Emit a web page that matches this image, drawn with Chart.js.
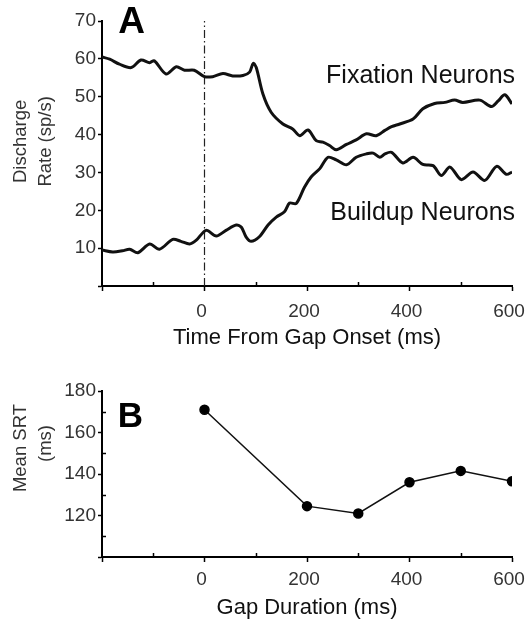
<!DOCTYPE html>
<html><head><meta charset="utf-8">
<script src="https://cdn.jsdelivr.net/npm/chart.js@4"></script>
<style>
html,body{margin:0;padding:0;background:#fff;}
#wrap{position:relative;width:526px;height:626px;background:#fff;}
canvas{position:absolute;left:0;}
#ca{top:0;}
#cb{top:360px;}
</style></head><body>
<div id="wrap"><canvas id="ca" width="526" height="360"></canvas><canvas id="cb" width="526" height="266"></canvas></div>
<script>
// ---- Panel A data (time from gap onset, ms ; discharge rate, sp/s) ----
const fixTime = [-200,-185,-166,-143,-124,-107,-98,-75,-55,-39,-20,0,16,36,55,75,88,95,101,114,130,153,172,186,202,218,231,244,257,277,296,316,335,352,365,381,407,426,449,469,488,504,537,560,573,586,600];
const fixRate = [60.5,59.9,58.6,57.7,59.7,59.0,59.5,56.0,57.9,57.0,57.0,55.3,55.3,56.1,55.5,55.6,56.5,58.8,57.7,50.7,45.9,42.8,41.5,39.7,41.2,38.4,38.0,37.1,36.0,37.4,38.6,40.2,39.7,41.1,42.1,42.8,44.1,46.8,48.2,48.5,49.1,48.5,49.1,47.4,48.9,50.5,48.1];
const buildTime = [-200,-179,-160,-146,-130,-107,-88,-62,-46,-29,-16,3,23,42,62,72,81,91,107,124,140,156,166,179,195,208,225,241,257,277,296,316,329,342,352,365,387,407,426,446,462,479,501,524,547,570,589,600];
const buildRate = [9.5,9.0,9.3,9.7,8.8,11.1,9.7,12.3,11.8,11.1,12.1,14.7,13.2,14.7,16.1,15.5,13.0,11.8,13.0,16.1,18.2,19.6,21.9,21.8,26.1,28.8,31.0,34.0,33.3,32.0,34.0,34.9,35.1,34.0,34.9,35.3,32.5,34.0,32.1,31.8,29.2,31.4,28.1,30.1,27.9,31.6,29.5,30.1];
const gapOnsetTime = [0, 0];
const gapOnsetRate = [0, 70];
// ---- Panel B data (gap duration, ms ; mean SRT, ms) ----
const gapDuration = [0, 200, 300, 400, 500, 600];
const meanSRT = [171, 124.5, 121, 136, 141.5, 136.5];
// ---- tick labels ----
const xTickLabels = [0, 200, 400, 600];
const yTickLabelsA = [10, 20, 30, 40, 50, 60, 70];
const yTickLabelsB = [120, 140, 160, 180];

const FAM = "'Liberation Sans', Arial, Helvetica, sans-serif";
const pts = (xs, ys) => xs.map((x, i) => ({x: x, y: ys[i]}));

function decorPlugin(items, majorX, majorY) {
  return {
    id: 'decor',
    afterDraw(chart) {
      const ctx = chart.ctx, xs = chart.scales.x, ys = chart.scales.y, ca = chart.chartArea;
      ctx.save();
      ctx.strokeStyle = '#000'; ctx.lineWidth = 1.5;
      xs.ticks.forEach(t => {
        if (Math.abs(t.value % majorX) !== 0) {
          const px = Math.round(xs.getPixelForValue(t.value)) + 0.5;
          ctx.beginPath(); ctx.moveTo(px, ca.bottom); ctx.lineTo(px, ca.bottom - 4); ctx.stroke();
        }
      });
      ys.ticks.forEach(t => {
        if (Math.abs(t.value % majorY) !== 0) {
          const py = Math.round(ys.getPixelForValue(t.value)) + 0.5;
          ctx.beginPath(); ctx.moveTo(ca.left, py); ctx.lineTo(ca.left + 4, py); ctx.stroke();
        }
      });
      items.forEach(it => {
        const x = it.px !== undefined ? it.px : xs.getPixelForValue(it.x);
        const y = ys.getPixelForValue(it.y);
        ctx.save(); ctx.translate(x, y); if (it.rotate) ctx.rotate(it.rotate);
        ctx.font = it.font; ctx.fillStyle = it.color || '#111';
        ctx.textAlign = it.align || 'center'; ctx.textBaseline = 'middle';
        ctx.fillText(it.text, 0, 0); ctx.restore();
      });
      ctx.restore();
    }
  };
}

function xScale(height, tickPad, title, titlePad) {
  return {
    type: 'linear', min: -200, max: 600,
    afterFit: s => { s.height = height; s.paddingRight = 14; s.paddingLeft = 0; },
    ticks: { stepSize: 100, autoSkip: false, maxRotation: 0, padding: tickPad, labelOffset: -3,
      font: {family: FAM, size: 19}, color: '#333',
      callback: v => xTickLabels.includes(v) ? String(v) : '' },
    grid: { drawOnChartArea: false, tickLength: 5, tickWidth: 1.5,
      tickColor: c => (c.tick && Math.abs(c.tick.value % 200) === 0) ? '#000' : 'rgba(0,0,0,0)' },
    border: { color: '#000', width: 2 },
    title: { display: true, text: title, color: '#111', font: {family: FAM, size: 22},
      padding: {top: 0, bottom: titlePad} }
  };
}

function yScale(min, max, labels, major) {
  return {
    type: 'linear', min: min, max: max,
    afterFit: s => { s.width = 102; },
    ticks: { stepSize: 10, autoSkip: false, padding: 2,
      font: {family: FAM, size: 19}, color: '#333',
      callback: v => labels.includes(v) ? String(v) : '' },
    grid: { drawOnChartArea: false, tickLength: 4, tickWidth: 1.5,
      tickColor: c => (c.tick && Math.abs(c.tick.value % major) === 0) ? '#000' : 'rgba(0,0,0,0)' },
    border: { color: '#000', width: 2 }
  };
}

const textA = [
  {text: 'A', x: -142, y: 69.6, font: 'bold 37px ' + FAM, color: '#000'},
  {text: 'Fixation Neurons', x: 606, y: 55.5, align: 'right', font: '25px ' + FAM},
  {text: 'Buildup Neurons', x: 606, y: 19.2, align: 'right', font: '25px ' + FAM},
  {text: 'Discharge', px: 21, y: 38.2, rotate: -Math.PI / 2, font: '18.5px ' + FAM, color: '#333'},
  {text: 'Rate (sp/s)', px: 46, y: 38.2, rotate: -Math.PI / 2, font: '18.5px ' + FAM, color: '#333'}
];
const textB = [
  {text: 'B', x: -144.5, y: 167.2, font: 'bold 35px ' + FAM, color: '#000'},
  {text: 'Mean SRT', px: 21, y: 152.5, rotate: -Math.PI / 2, font: '18.5px ' + FAM, color: '#333'},
  {text: '(ms)', px: 46, y: 154.7, rotate: -Math.PI / 2, font: '18.5px ' + FAM, color: '#333'}
];

new Chart(document.getElementById('ca'), {
  type: 'line',
  data: { datasets: [
    {label: 'Fixation Neurons', data: pts(fixTime, fixRate), borderColor: '#111', borderWidth: 3,
     pointRadius: 0, tension: 0.3, fill: false},
    {label: 'Buildup Neurons', data: pts(buildTime, buildRate), borderColor: '#111', borderWidth: 3,
     pointRadius: 0, tension: 0.3, fill: false},
    {label: 'Gap onset', data: pts(gapOnsetTime, gapOnsetRate), borderColor: '#222', borderWidth: 1.2,
     borderDash: [8, 3, 1.5, 3], pointRadius: 0, fill: false}
  ]},
  options: {
    responsive: false, animation: false, devicePixelRatio: 1,
    layout: { padding: {top: 21, right: 0, left: 0, bottom: 0} },
    plugins: { legend: {display: false}, tooltip: {enabled: false} },
    scales: { x: xScale(74, 9.6, 'Time From Gap Onset (ms)', 8.8), y: yScale(0, 70, yTickLabelsA, 10) }
  },
  plugins: [decorPlugin(textA, 200, 10)]
});

new Chart(document.getElementById('cb'), {
  type: 'line',
  data: { datasets: [
    {label: 'Mean SRT', data: pts(gapDuration, meanSRT), borderColor: '#111', borderWidth: 1.5,
     pointRadius: 4.5, pointBackgroundColor: '#000', pointBorderColor: '#000', tension: 0, fill: false}
  ]},
  options: {
    responsive: false, animation: false, devicePixelRatio: 1,
    layout: { padding: {top: 31, right: 0, left: 0, bottom: 0} },
    plugins: { legend: {display: false}, tooltip: {enabled: false} },
    scales: { x: xScale(69, 6.6, 'Gap Duration (ms)', 4.8), y: yScale(100, 180, yTickLabelsB, 20) }
  },
  plugins: [decorPlugin(textB, 200, 20)]
});
</script>
</body></html>
